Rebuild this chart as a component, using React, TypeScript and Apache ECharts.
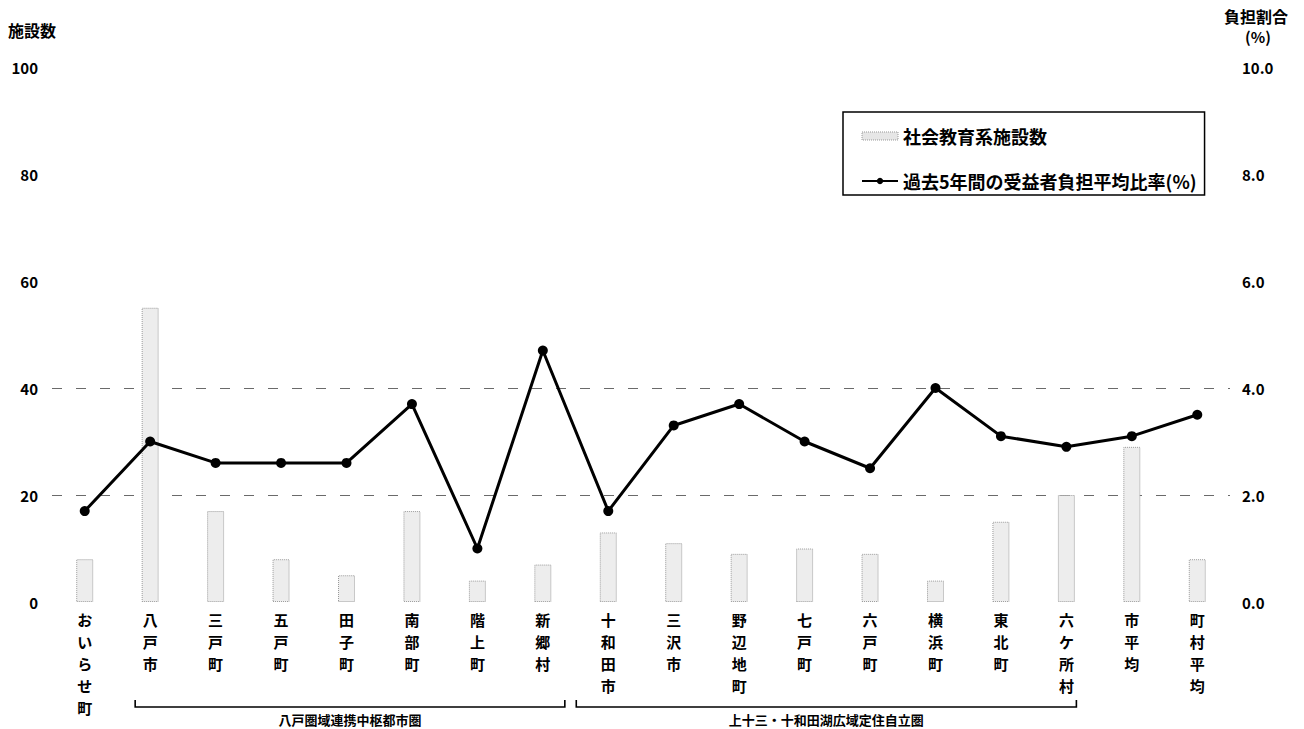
import React, { useEffect, useRef } from "react";
import * as echarts from "echarts";

const categories = [
  "おいらせ町", "八戸市", "三戸町", "五戸町", "田子町", "南部町", "階上町", "新郷村",
  "十和田市", "三沢市", "野辺地町", "七戸町", "六戸町", "横浜町", "東北町", "六ケ所村",
  "市平均", "町村平均",
];
const facilityCounts = [8, 55, 17, 8, 5, 17, 4, 7, 13, 11, 9, 10, 9, 4, 15, 20, 29, 8];
const burdenRatio = [1.7, 3.0, 2.6, 2.6, 2.6, 3.7, 1.0, 4.7, 1.7, 3.3, 3.7, 3.0, 2.5, 4.0, 3.1, 2.9, 3.1, 3.5];
const leftTicks = [0, 20, 40, 60, 80, 100];
const rightTicks = [0, 2, 4, 6, 8, 10];
const groups = [
  { name: "八戸圏域連携中枢都市圏", from: "八戸市", to: "新郷村" },
  { name: "上十三・十和田湖広域定住自立圏", from: "十和田市", to: "六ケ所村" },
];
const barName = "社会教育系施設数";
const lineName = "過去5年間の受益者負担平均比率(%)";

const FONT = "'Noto Sans CJK JP', 'Noto Sans', sans-serif";

export default function App() {
  const ref = useRef<HTMLDivElement>(null);
  useEffect(() => {
    document.body.style.margin = "0";
    const chart = echarts.init(ref.current!, null, { renderer: "svg" });
    const option: any = {
      animation: false,
      backgroundColor: "#ffffff",
      textStyle: { fontFamily: FONT },
      grid: { left: 52, right: 74, top: 67, bottom: 127 },
      legend: {
        orient: "vertical",
        left: 843,
        top: 112,
        backgroundColor: "#ffffff",
        borderColor: "#000000",
        borderWidth: 1.5,
        borderRadius: 0,
        padding: [15, 8, 5, 18],
        itemGap: 27,
        itemWidth: 36,
        itemHeight: 8,
        data: [
          { name: barName, icon: "rect", itemStyle: { color: "#e6e6e6", borderColor: "#999", borderWidth: 1, borderType: "dotted" } },
          { name: lineName },
        ],
        textStyle: { fontSize: 18, fontWeight: "bold", color: "#000", fontFamily: FONT },
      },
      xAxis: {
        type: "category",
        data: categories,
        axisLine: { show: false },
        axisTick: { show: false },
        axisLabel: {
          interval: 0,
          margin: 6,
          fontSize: 15,
          fontWeight: "bold",
          color: "#000",
          lineHeight: 22,
          verticalAlign: "top",
          formatter: (v: string) => v.split("").join("\n"),
        },
      },
      yAxis: [
        {
          type: "value",
          min: leftTicks[0],
          max: leftTicks[leftTicks.length - 1],
          interval: leftTicks[1] - leftTicks[0],
          axisLine: { show: false },
          axisTick: { show: false },
          axisLabel: { fontSize: 15, fontWeight: "bold", color: "#000", margin: 14, padding: [10, 0, 0, 0] },
          splitLine: {
            show: true,
            lineStyle: {
              color: ["transparent", "#6a6a6a", "#6a6a6a", "transparent", "transparent", "transparent"],
              type: [10, 14],
              width: 1.2,
            },
          },
        },
        {
          type: "value",
          min: rightTicks[0],
          max: rightTicks[rightTicks.length - 1],
          interval: rightTicks[1] - rightTicks[0],
          axisLine: { show: false },
          axisTick: { show: false },
          splitLine: { show: false },
          axisLabel: {
            fontSize: 15,
            fontWeight: "bold",
            color: "#000",
            margin: 12,
            formatter: (v: number) => v.toFixed(1),
          },
        },
      ],
      series: [
        {
          name: barName,
          type: "bar",
          yAxisIndex: 0,
          data: facilityCounts,
          barWidth: 17,
          itemStyle: { color: "#ededed", borderColor: "#9a9a9a", borderWidth: 1, borderType: "dotted" },
        },
        {
          name: lineName,
          type: "line",
          yAxisIndex: 1,
          data: burdenRatio,
          symbol: "circle",
          symbolSize: 10,
          lineStyle: { color: "#000", width: 3 },
          itemStyle: { color: "#000" },
        },
      ],
    };
    chart.setOption(option);

    const graphics: any[] = [
      { type: "text", left: 8, top: 22, style: { text: "施設数", fontSize: 16, fontWeight: "bold", fill: "#000", fontFamily: FONT } },
      { type: "text", x: 1256, y: 8, style: { text: "負担割合", fontSize: 16, fontWeight: "bold", fill: "#000", fontFamily: FONT, textAlign: "center" } },
      { type: "text", x: 1258, y: 29, style: { text: "(%)", fontSize: 15, fontWeight: "bold", fill: "#000", fontFamily: FONT, textAlign: "center" } },
    ];
    const offs = [
      [-15, 22],
      [-32, 10],
    ];
    groups.forEach((g, i) => {
      const x1 = (chart.convertToPixel({ xAxisIndex: 0 }, g.from) as number) + offs[i][0];
      const x2 = (chart.convertToPixel({ xAxisIndex: 0 }, g.to) as number) + offs[i][1];
      graphics.push({
        type: "polyline",
        shape: { points: [[x1, 700], [x1, 707], [x2, 707], [x2, 700]] },
        style: { stroke: "#000", lineWidth: 1.6, fill: null },
      });
      graphics.push({
        type: "text",
        x: (x1 + x2) / 2,
        y: 713,
        style: { text: g.name, fontSize: 13, fontWeight: "bold", fill: "#000", fontFamily: FONT, textAlign: "center" },
      });
    });
    chart.setOption({ graphic: graphics });
    return () => chart.dispose();
  }, []);
  return <div ref={ref} style={{ width: 1304, height: 729 }} />;
}
